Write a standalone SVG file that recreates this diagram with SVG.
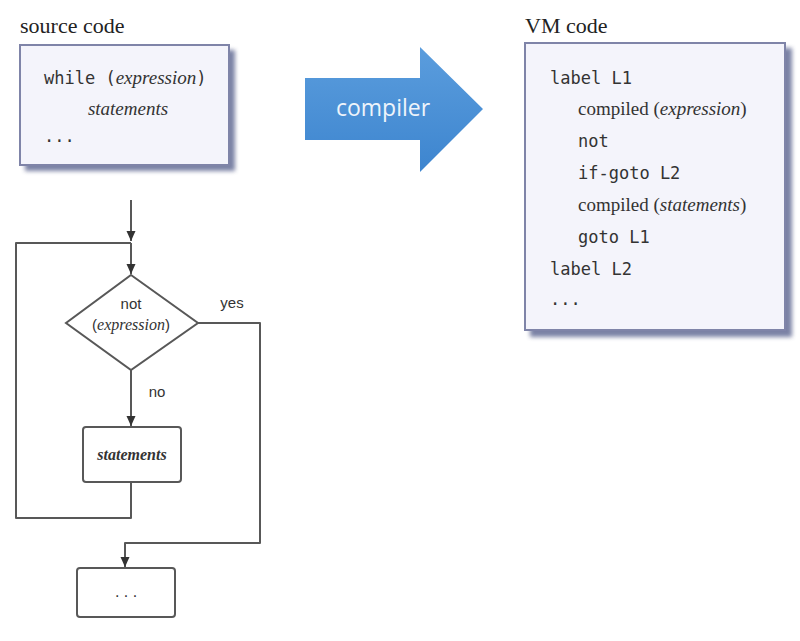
<svg xmlns="http://www.w3.org/2000/svg" width="800" height="641" viewBox="0 0 800 641">
<defs>
<style>
.title{font-family:"Liberation Serif",serif;font-size:22px;fill:#222}
.mono{font-family:"DejaVu Sans Mono","Liberation Mono",monospace;font-size:17px;fill:#333}
.ser{font-family:"Liberation Serif",serif;font-size:19px;fill:#333}
.it{font-style:italic}
.fc{font-family:"Liberation Sans",sans-serif;font-size:15px;fill:#333}
.box{fill:#f4f4fb;stroke:#7f84a8;stroke-width:2}
.shadow{fill:#4f5887;opacity:0.75}
.ln{fill:none;stroke:#585858;stroke-width:2;stroke-linejoin:round}
.node{fill:#fff;stroke:#585858;stroke-width:2}
</style>
<marker id="ah" markerWidth="12" markerHeight="12" refX="10" refY="5" orient="auto" markerUnits="userSpaceOnUse">
<path d="M0,0.5 L10,5 L0,9.5 Z" fill="#333"/>
</marker>
<linearGradient id="ag" x1="0" y1="0" x2="0" y2="1">
<stop offset="0" stop-color="#5b9ddd"/>
<stop offset="1" stop-color="#3d85cf"/>
</linearGradient>
<filter id="blur" x="-10%" y="-10%" width="120%" height="120%"><feGaussianBlur stdDeviation="2"/></filter>
</defs>
<rect width="800" height="641" fill="#fff"/>

<g id="source">
<text class="title" x="20" y="33">source code</text>
<rect class="shadow" x="25" y="50" width="210" height="121" filter="url(#blur)"/>
<rect class="box" x="20" y="45" width="209" height="120"/>
<text class="mono" x="44" y="84">while (<tspan class="ser it" font-size="18">expression</tspan>)</text>
<text class="ser it" x="128" y="115" text-anchor="middle" font-size="18">statements</text>
<text class="mono" x="44" y="142">...</text>
</g>

<g id="compiler">
<path d="M305,78 L420,78 L420,47 L483,109 L420,172 L420,140 L305,140 Z" fill="url(#ag)"/>
<text x="383" y="116" text-anchor="middle" font-family="Open Sans, sans-serif" font-size="23" fill="#eef4fb">compiler</text>
</g>

<g id="vm">
<text class="title" x="525" y="33">VM code</text>
<rect class="shadow" x="530" y="48" width="262" height="289" filter="url(#blur)"/>
<rect class="box" x="525" y="43" width="260" height="287"/>
<text class="mono" x="550" y="84">label L1</text>
<text class="ser" x="578" y="115">compiled (<tspan class="it">expression</tspan>)</text>
<text class="mono" x="578" y="147">not</text>
<text class="mono" x="578" y="179">if-goto L2</text>
<text class="ser" x="578" y="211">compiled (<tspan class="it">statements</tspan>)</text>
<text class="mono" x="578" y="243">goto L1</text>
<text class="mono" x="550" y="275">label L2</text>
<text class="mono" x="550" y="305">...</text>
</g>

<g id="connectors">
<path class="ln" d="M131,200 L131,241" marker-end="url(#ah)"/>
<path class="ln" d="M131,243 L131,274" marker-end="url(#ah)"/>
<path class="ln" d="M131,482 L131,518 L16,518 L16,243 L131,243"/>
<path class="ln" d="M131,370 L131,426" marker-end="url(#ah)"/>
<path class="ln" d="M198,323 L260,323 L260,543 L125,543 L125,567" marker-end="url(#ah)"/>
<text class="fc" x="232" y="308" text-anchor="middle">yes</text>
<text class="fc" x="157" y="397" text-anchor="middle">no</text>
</g>

<g id="decision">
<path class="node" d="M131,275 L198,323 L131,370 L66,323 Z"/>
<text class="fc" x="131" y="309" text-anchor="middle">not</text>
<text class="fc" x="131" y="330" text-anchor="middle">(<tspan font-family="Liberation Serif, serif" font-style="italic" font-size="16">expression</tspan>)</text>
</g>

<g id="statements">
<rect class="node" x="83" y="427" width="98" height="55" rx="3"/>
<text x="132" y="460" text-anchor="middle" font-family="Liberation Serif, serif" font-style="italic" font-weight="bold" font-size="16" fill="#333">statements</text>
</g>

<g id="end">
<rect class="node" x="77" y="568" width="98" height="49" rx="3"/>
<text x="126" y="597" text-anchor="middle" font-family="Liberation Sans, sans-serif" font-size="16" fill="#333">. . .</text>
</g>
</svg>
